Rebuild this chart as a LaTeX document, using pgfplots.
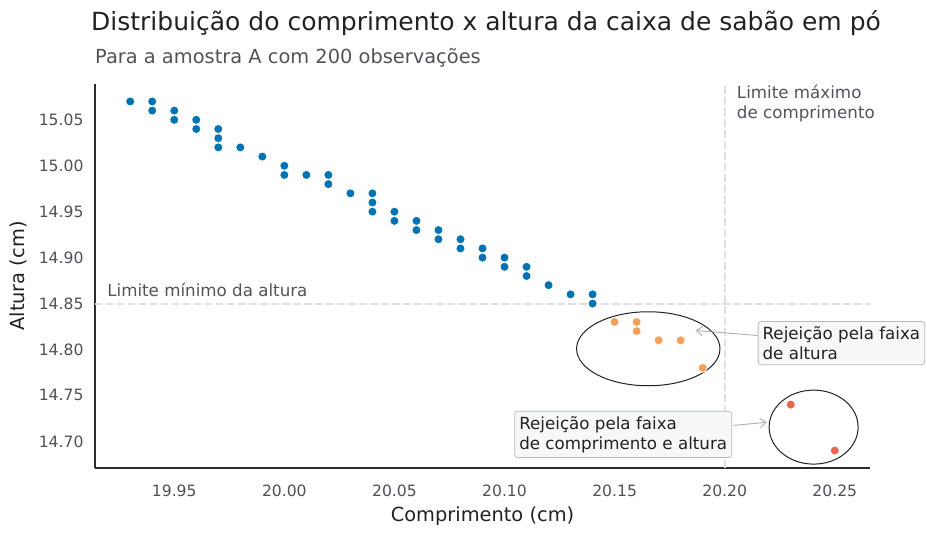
\documentclass[border=0pt]{standalone}
\usepackage{fontspec}
\setmainfont{DejaVu Sans}
\usepackage{pgfplots}
\pgfplotsset{compat=1.18}
\usetikzlibrary{arrows.meta}
\definecolor{pblue}{HTML}{0173B2}
\definecolor{porange}{HTML}{F3A05A}
\definecolor{pred}{HTML}{E6664E}
\definecolor{titlec}{HTML}{222222}
\definecolor{subc}{HTML}{4F545A}
\definecolor{tickc}{HTML}{4D5157}
\definecolor{spinec}{HTML}{2B2B2B}
\definecolor{dashc}{HTML}{DCDFE3}
\definecolor{boxfill}{HTML}{F7F8FA}
\definecolor{boxdraw}{HTML}{B5BAC2}
\definecolor{arrowc}{HTML}{A9AEB6}
\begin{document}
\begin{tikzpicture}
\path[use as bounding box] (-95pt,-67pt) rectangle (832pt,468pt);
\begin{axis}[
  at={(0pt,0pt)}, anchor=south west,
  scale only axis, width=775pt, height=384pt,
  xmin=19.914, xmax=20.266, ymin=14.671, ymax=15.089,
  axis x line*=bottom, axis y line*=left,
  axis line style={draw=spinec, line width=1.3pt},
  major tick length=0pt,
  xtick={19.95,20.00,20.05,20.10,20.15,20.20,20.25},
  xticklabels={19.95,20.00,20.05,20.10,20.15,20.20,20.25},
  ytick={14.70,14.75,14.80,14.85,14.90,14.95,15.00,15.05},
  yticklabels={14.70,14.75,14.80,14.85,14.90,14.95,15.00,15.05},
  tick label style={font=\fontsize{15.6}{18}\selectfont, text=tickc},
  xticklabel style={yshift=-13pt},
  yticklabel style={xshift=-8pt},
  xlabel={Comprimento (cm)}, ylabel={Altura (cm)},
  label style={font=\fontsize{19.4}{23}\selectfont, text=titlec},
  xlabel style={at={(rel axis cs:0.5,0)}, anchor=center, yshift=-48pt},
  ylabel style={at={(rel axis cs:0,0.5)}, anchor=center, yshift=77pt},
  clip=false,
]
\addplot[only marks, mark=*, mark size=4.5pt, mark options={fill=pblue, draw=white, line width=0.7pt}] coordinates {
(19.93,15.07) (19.94,15.07) (19.94,15.06) (19.95,15.06) (19.95,15.05)
(19.96,15.05) (19.96,15.04) (19.97,15.04) (19.97,15.03) (19.97,15.02)
(19.98,15.02) (19.99,15.01) (20.00,15.00) (20.00,14.99) (20.01,14.99)
(20.02,14.99) (20.02,14.98) (20.03,14.97) (20.04,14.97) (20.04,14.96)
(20.04,14.95) (20.05,14.95) (20.05,14.94) (20.06,14.94) (20.06,14.93)
(20.07,14.93) (20.07,14.92) (20.08,14.92) (20.08,14.91) (20.09,14.91)
(20.09,14.90) (20.10,14.90) (20.10,14.89) (20.11,14.89) (20.11,14.88)
(20.12,14.87) (20.13,14.86) (20.14,14.86) (20.14,14.85)
};
\addplot[only marks, mark=*, mark size=4.5pt, mark options={fill=porange, draw=white, line width=0.7pt}] coordinates {
(20.15,14.83) (20.16,14.83) (20.16,14.82) (20.17,14.81) (20.18,14.81) (20.19,14.78)
};
\addplot[only marks, mark=*, mark size=4.5pt, mark options={fill=pred, draw=white, line width=0.7pt}] coordinates {
(20.23,14.74) (20.25,14.69)
};
% limit lines
\draw[dashc, line width=2pt, dash pattern=on 7.5pt off 3.5pt] (axis cs:19.914,14.85) -- (axis cs:20.266,14.85);
\draw[dashc, line width=2pt, dash pattern=on 7.5pt off 3.5pt] (axis cs:20.20,14.671) -- (axis cs:20.20,15.089);
\node[anchor=base west, inner sep=0pt, text=subc, font=\fontsize{16.7}{20}\selectfont] at (axis cs:19.9195,14.8576) {Limite mínimo da altura};
\node[anchor=base west, inner sep=0pt, text=subc, font=\fontsize{16.7}{20}\selectfont] at (axis cs:20.2055,15.0736) {Limite máximo};
\node[anchor=base west, inner sep=0pt, text=subc, font=\fontsize{16.7}{20}\selectfont] at (axis cs:20.2055,15.0518) {de comprimento};
% ellipses
\draw[titlec, line width=1pt] (axis cs:20.1653,14.8008) ellipse [x radius=71.7pt, y radius=37pt];
\draw[titlec, line width=1pt] (axis cs:20.2404,14.7155) ellipse [x radius=44.5pt, y radius=37pt];
% annotations
\draw[arrowc, line width=0.9pt, -{Straight Barb[length=6pt, width=9pt]}] (axis cs:20.2150,14.8152) -- (axis cs:20.1868,14.8207);
\node[anchor=west, align=left, draw=boxdraw, fill=boxfill, rounded corners=3pt, line width=0.8pt, inner xsep=4.5pt, inner ysep=5pt, text=titlec, font=\fontsize{16.7}{20}\selectfont] at (axis cs:20.215,14.807) {Rejeição pela faixa\\de altura};
\draw[arrowc, line width=0.9pt, -{Straight Barb[length=6pt, width=9pt]}] (axis cs:20.2041,14.7174) -- (axis cs:20.2191,14.7207);
\node[anchor=west, align=left, draw=boxdraw, fill=boxfill, rounded corners=3pt, line width=0.8pt, inner xsep=4.5pt, inner ysep=5pt, text=titlec, font=\fontsize{16.7}{20}\selectfont] at (axis cs:20.1045,14.7076) {Rejeição pela faixa\\de comprimento e altura};
% titles
\node[anchor=base west, inner sep=0pt, text=titlec, font=\fontsize{25}{29}\selectfont] at ([xshift=-4pt, yshift=53pt]rel axis cs:0,1) {Distribuição do comprimento x altura da caixa de sabão em pó};
\node[anchor=base west, inner sep=0pt, text=subc, font=\fontsize{19.4}{23}\selectfont] at ([xshift=0pt, yshift=20pt]rel axis cs:0,1) {Para a amostra A com 200 observações};
\end{axis}
\end{tikzpicture}
\end{document}
